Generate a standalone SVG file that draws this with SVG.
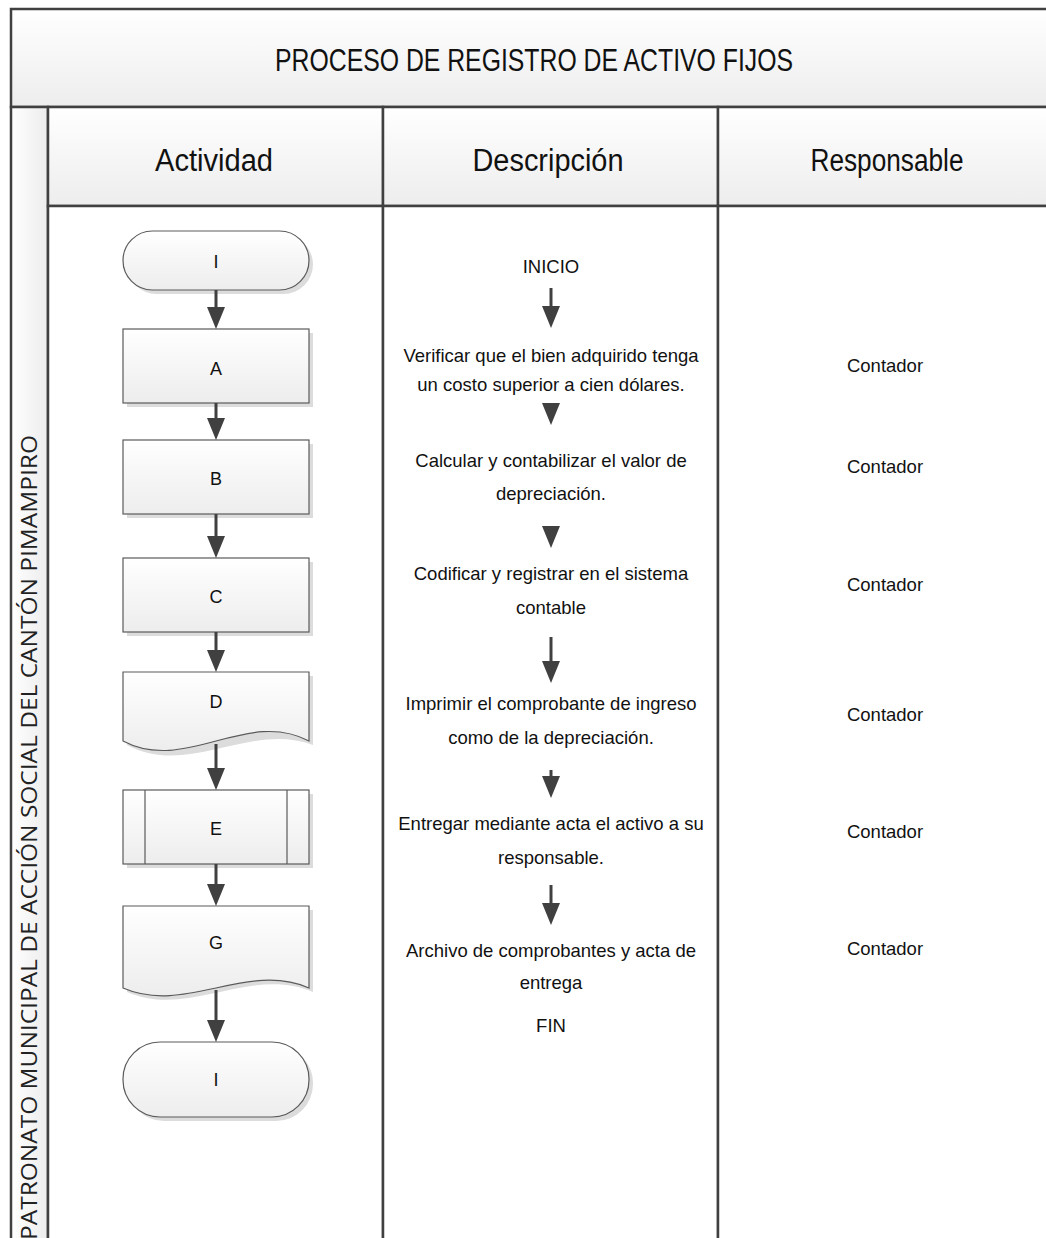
<svg xmlns="http://www.w3.org/2000/svg" width="1046" height="1238" viewBox="0 0 1046 1238">
<defs>
<linearGradient id="gv" x1="0" y1="0" x2="0" y2="1"><stop offset="0" stop-color="#ffffff"/><stop offset="1" stop-color="#ededed"/></linearGradient>
<linearGradient id="gh" x1="0" y1="0" x2="1" y2="0"><stop offset="0" stop-color="#ffffff"/><stop offset="1" stop-color="#ececec"/></linearGradient>
<marker id="ah" viewBox="0 0 22 18" refX="10" refY="9" markerWidth="22" markerHeight="18" markerUnits="userSpaceOnUse" orient="auto"><path d="M0,0 L22,9 L0,18 z" fill="#404040"/></marker>
<style>
.cell{stroke:#404040;stroke-width:2.5}
.sh{fill:#dcdcdc}
.shape{fill:url(#gv);stroke:#5a5a5a;stroke-width:1.2}
.conn{stroke:#404040;stroke-width:3;fill:none;marker-end:url(#ah)}
.t{font-family:"Liberation Sans",Arial,sans-serif;fill:#111;text-anchor:middle}
.lbl{font-size:18px}
.desc{font-size:18.5px}
.hdr{font-size:31px}
.ttl{font-size:31px}
</style>
</defs>
<rect x="0" y="0" width="1046" height="1238" fill="#ffffff"/>
<g id="table">
<rect x="11" y="9" width="1050" height="98" fill="url(#gv)" class="cell"/>
<rect x="11" y="107" width="37" height="1140" fill="url(#gh)" class="cell"/>
<rect x="48" y="107" width="335" height="99" fill="url(#gv)" class="cell"/>
<rect x="383" y="107" width="335" height="99" fill="url(#gv)" class="cell"/>
<rect x="718" y="107" width="345" height="99" fill="url(#gv)" class="cell"/>
<rect x="48" y="206" width="335" height="1040" fill="#ffffff" class="cell"/>
<rect x="383" y="206" width="335" height="1040" fill="#ffffff" class="cell"/>
<rect x="718" y="206" width="345" height="1040" fill="#ffffff" class="cell"/>
<text class="t ttl" x="534" y="71" textLength="518" lengthAdjust="spacingAndGlyphs">PROCESO DE REGISTRO DE ACTIVO FIJOS</text>
<text class="t hdr" x="214" y="171" textLength="118" lengthAdjust="spacingAndGlyphs">Actividad</text>
<text class="t hdr" x="548" y="171" textLength="151" lengthAdjust="spacingAndGlyphs">Descripción</text>
<text class="t hdr" x="887" y="171" textLength="153" lengthAdjust="spacingAndGlyphs">Responsable</text>
<text font-family="'Open Sans','DejaVu Sans',sans-serif" font-size="22" fill="#222" text-anchor="end" transform="translate(37,435) rotate(-90)" textLength="805" lengthAdjust="spacingAndGlyphs">PATRONATO MUNICIPAL DE ACCIÓN SOCIAL DEL CANTÓN PIMAMPIRO</text>
</g>
<g id="node-start">
<rect class="sh" x="127" y="235" width="186" height="59" rx="29.5"/>
<rect class="shape" x="123" y="231" width="186" height="59" rx="29.5"/>
<text class="t lbl" x="216" y="268">I</text>
</g>
<g id="node-A">
<rect class="sh" x="127" y="333" width="186" height="74"/>
<rect class="shape" x="123" y="329" width="186" height="74"/>
<text class="t lbl" x="216" y="375">A</text>
</g>
<g id="node-B">
<rect class="sh" x="127" y="444" width="186" height="74"/>
<rect class="shape" x="123" y="440" width="186" height="74"/>
<text class="t lbl" x="216" y="485">B</text>
</g>
<g id="node-C">
<rect class="sh" x="127" y="562" width="186" height="74"/>
<rect class="shape" x="123" y="558" width="186" height="74"/>
<text class="t lbl" x="216" y="603">C</text>
</g>
<g id="node-D">
<path class="sh" d="M127,676 H313 V745 C251,721 189,778 127,745 Z"/>
<path class="shape" d="M123,672 H309 V741 C247,708 185,774 123,741 Z"/>
<text class="t lbl" x="216" y="708">D</text>
</g>
<g id="node-E">
<rect class="sh" x="127" y="794" width="186" height="74"/>
<rect class="shape" x="123" y="790" width="186" height="74"/>
<line x1="145" y1="790" x2="145" y2="864" stroke="#5a5a5a" stroke-width="1.2"/>
<line x1="287" y1="790" x2="287" y2="864" stroke="#5a5a5a" stroke-width="1.2"/>
<text class="t lbl" x="216" y="835">E</text>
</g>
<g id="node-G">
<path class="sh" d="M127,910 H313 V992 C251,965 189,1019 127,992 Z"/>
<path class="shape" d="M123,906 H309 V988 C247,961 185,1015 123,988 Z"/>
<text class="t lbl" x="216" y="949">G</text>
</g>
<g id="node-end">
<rect class="sh" x="127" y="1046" width="186" height="75" rx="37"/>
<rect class="shape" x="123" y="1042" width="186" height="75" rx="37"/>
<text class="t lbl" x="216" y="1086">I</text>
</g>
<g id="desc">
<text class="t desc" x="551" y="273">INICIO</text>
<text class="t desc" x="551" y="362">Verificar que el bien adquirido tenga</text>
<text class="t desc" x="551" y="391">un costo superior a cien dólares.</text>
<text class="t desc" x="551" y="467">Calcular y contabilizar  el valor de</text>
<text class="t desc" x="551" y="500">depreciación.</text>
<text class="t desc" x="551" y="580">Codificar y registrar en el sistema</text>
<text class="t desc" x="551" y="614">contable</text>
<text class="t desc" x="551" y="710">Imprimir el comprobante de ingreso</text>
<text class="t desc" x="551" y="744">como de la depreciación.</text>
<text class="t desc" x="551" y="830">Entregar mediante acta el activo a su</text>
<text class="t desc" x="551" y="864">responsable.</text>
<text class="t desc" x="551" y="957">Archivo de comprobantes y acta de</text>
<text class="t desc" x="551" y="989">entrega</text>
<text class="t desc" x="551" y="1032">FIN</text>
</g>
<g id="resp">
<text class="t desc" x="885" y="372">Contador</text>
<text class="t desc" x="885" y="473">Contador</text>
<text class="t desc" x="885" y="591">Contador</text>
<text class="t desc" x="885" y="721">Contador</text>
<text class="t desc" x="885" y="838">Contador</text>
<text class="t desc" x="885" y="955">Contador</text>
</g>
<g id="connectors">
<line class="conn" x1="216" y1="290" x2="216" y2="317"/>
<line class="conn" x1="216" y1="403" x2="216" y2="428"/>
<line class="conn" x1="216" y1="514" x2="216" y2="546"/>
<line class="conn" x1="216" y1="632" x2="216" y2="660"/>
<line class="conn" x1="216" y1="744" x2="216" y2="778"/>
<line class="conn" x1="216" y1="864" x2="216" y2="894"/>
<line class="conn" x1="216" y1="990" x2="216" y2="1030"/>
<line class="conn" x1="551" y1="288" x2="551" y2="316"/>
<line class="conn" x1="551" y1="403" x2="551" y2="413"/>
<line class="conn" x1="551" y1="526" x2="551" y2="536"/>
<line class="conn" x1="551" y1="637" x2="551" y2="671"/>
<line class="conn" x1="551" y1="770" x2="551" y2="786"/>
<line class="conn" x1="551" y1="885" x2="551" y2="913"/>
</g>
</svg>
